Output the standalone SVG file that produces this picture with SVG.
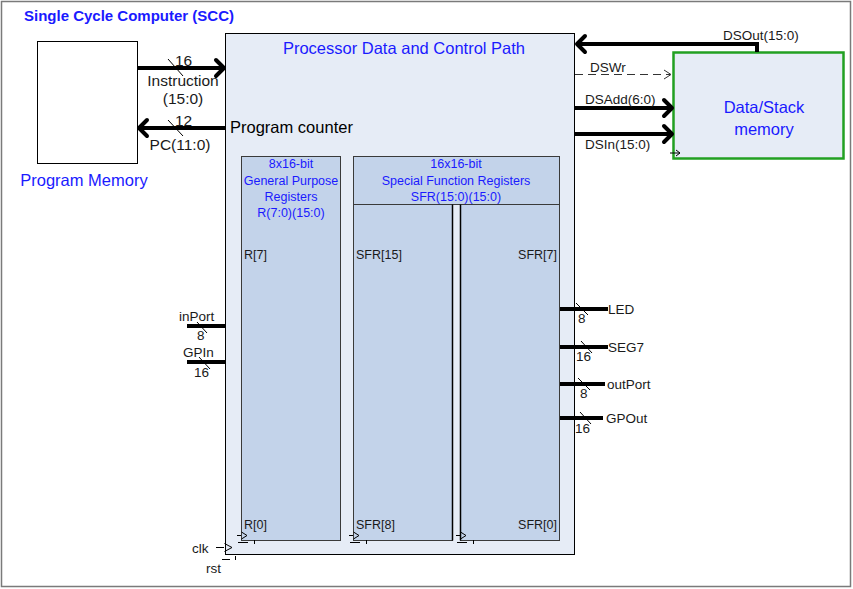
<svg xmlns="http://www.w3.org/2000/svg" width="853" height="589" viewBox="0 0 853 589">
<style>
text{font-family:"Liberation Sans",Arial,sans-serif;}
.blue{fill:#1a1aff;}
.lbl{fill:#1a1a1a;font-size:13.5px;}
.reg{fill:#c3d3ea;stroke:#3a3a3a;stroke-width:1;}
.bus{stroke:#000;stroke-width:4;fill:none;}
.head{stroke:#000;stroke-width:4;fill:none;stroke-linecap:round;stroke-linejoin:round;}
.thin{stroke:#000;stroke-width:1;fill:none;}
.rt{font-size:12.5px;fill:#1a1a1a;}
.hdr{font-size:12.5px;fill:#1a1aff;text-anchor:middle;}
.big{font-size:16.5px;}
.mid{font-size:15.5px;}
</style>
<rect x="0" y="0" width="853" height="589" fill="#fff"/>
<rect x="1.5" y="1.5" width="849" height="585" fill="none" stroke="#7a7a7a" stroke-width="1.5"/>
<text x="24" y="21" font-size="15" font-weight="bold" class="blue">Single Cycle Computer (SCC)</text>

<g id="program-memory">
<rect x="37.5" y="41.5" width="100" height="122" fill="#fff" stroke="#000" stroke-width="1"/>
<text x="84" y="186" class="blue big" text-anchor="middle">Program Memory</text>
</g>

<g id="processor">
<rect x="225.5" y="33.5" width="349" height="521" fill="#e6ecf6" stroke="#000" stroke-width="1"/>
<text x="404" y="54" class="blue big" text-anchor="middle">Processor Data and Control Path</text>
<text x="230" y="133" class="big" fill="#000">Program counter</text>
<path class="thin" d="M216 547.5 H224 M224.5 543.5 L232 547.5 L224.5 551.5 M222 559.5 H230 M235.5 556 V560"/>
<text x="192" y="553" class="lbl">clk</text>
<text x="206" y="573" class="lbl">rst</text>
</g>

<g id="gpr">
<rect class="reg" x="241.5" y="156.5" width="99" height="384"/>
<text class="hdr" x="291" y="168">8x16-bit</text>
<text class="hdr" x="291" y="185">General Purpose</text>
<text class="hdr" x="291" y="201">Registers</text>
<text class="hdr" x="291" y="217">R(7:0)(15:0)</text>
<text class="rt" x="244" y="259">R[7]</text>
<text class="rt" x="244" y="529">R[0]</text>
<path class="thin" d="M237 535.5 H241 M241.5 532 L247 535.5 L241.5 539 M238 542.5 H248 M254.5 540 V544"/>
</g>

<g id="sfr">
<rect class="reg" x="353.5" y="156.5" width="206" height="48"/>
<text class="hdr" x="456" y="168">16x16-bit</text>
<text class="hdr" x="456" y="185">Special Function Registers</text>
<text class="hdr" x="456" y="201">SFR(15:0)(15:0)</text>
<rect class="reg" x="353.5" y="204.5" width="99" height="336"/>
<rect class="reg" x="460.5" y="204.5" width="99" height="336"/>
<line x1="452.5" y1="204.5" x2="452.5" y2="540.5" stroke="#000" stroke-width="1.5"/>
<line x1="460.5" y1="204.5" x2="460.5" y2="540.5" stroke="#000" stroke-width="1.5"/>
<text class="rt" x="356" y="259">SFR[15]</text>
<text class="rt" x="557" y="259" text-anchor="end">SFR[7]</text>
<text class="rt" x="356" y="529">SFR[8]</text>
<text class="rt" x="557" y="529" text-anchor="end">SFR[0]</text>
<path class="thin" d="M349 535.5 H353 M353.5 532 L359 535.5 L353.5 539 M350 542.5 H360 M366.5 540 V544"/>
<path class="thin" d="M456 535.5 H460 M460.5 532 L466 535.5 L460.5 539 M457 542.5 H467 M473.5 540 V544"/>
</g>

<g id="data-stack-memory">
<rect x="673.5" y="52.5" width="170" height="106" fill="#e6ecf6" stroke="#22a022" stroke-width="2.5"/>
<text x="764" y="113" class="blue big" text-anchor="middle">Data/Stack</text>
<text x="764" y="135" class="blue big" text-anchor="middle">memory</text>
<path class="thin" d="M670 153 H680 M676 150 L680 153 L676 156"/>
</g>

<g id="connectors">
<!-- Instruction -->
<line class="bus" x1="138" y1="68" x2="223" y2="68"/>
<path class="head" d="M216 60 L224 68 L216 76"/>
<line class="thin" x1="168" y1="59" x2="183" y2="76"/>
<text x="175" y="66" class="mid" fill="#1a1a1a">16</text>
<text x="183" y="86" class="mid" fill="#1a1a1a" text-anchor="middle">Instruction</text>
<text x="183" y="104" class="mid" fill="#1a1a1a" text-anchor="middle">(15:0)</text>
<!-- PC -->
<line class="bus" x1="225" y1="128" x2="140" y2="128"/>
<path class="head" d="M147 120 L139 128 L147 136"/>
<line class="thin" x1="168" y1="120" x2="183" y2="136"/>
<text x="175" y="126" class="mid" fill="#1a1a1a">12</text>
<text x="180" y="150" class="mid" fill="#1a1a1a" text-anchor="middle">PC(11:0)</text>
<!-- DSOut -->
<path class="bus" d="M757 52 V44 H578"/>
<path class="head" d="M585 36 L577 44 L585 52"/>
<text x="723" y="40" class="lbl">DSOut(15:0)</text>
<!-- DSWr -->
<line x1="575" y1="74.5" x2="670" y2="74.5" stroke="#333" stroke-width="1" stroke-dasharray="8,5"/>
<path d="M664 70 L671 74.5 L664 79" fill="none" stroke="#333" stroke-width="1"/>
<text x="590" y="72" class="lbl">DSWr</text>
<!-- DSAdd -->
<line class="bus" x1="575" y1="108" x2="670" y2="108"/>
<path class="head" d="M664 100 L672 108 L664 116"/>
<text x="585" y="104" class="lbl">DSAdd(6:0)</text>
<!-- DSIn -->
<line class="bus" x1="575" y1="134" x2="670" y2="134"/>
<path class="head" d="M664 126 L672 134 L664 142"/>
<text x="585" y="149" class="lbl">DSIn(15:0)</text>
<!-- inPort -->
<line class="bus" x1="187" y1="326" x2="226" y2="326"/>
<line class="thin" x1="197" y1="322" x2="207" y2="333"/>
<text x="179" y="321" class="lbl">inPort</text>
<text x="197" y="340" class="lbl">8</text>
<!-- GPIn -->
<line class="bus" x1="187" y1="362" x2="226" y2="362"/>
<line class="thin" x1="199" y1="357" x2="210" y2="369"/>
<text x="183" y="357" class="lbl">GPIn</text>
<text x="194" y="377" class="lbl">16</text>
<!-- LED -->
<line class="bus" x1="560" y1="309" x2="608" y2="309"/>
<line class="thin" x1="576" y1="303" x2="588" y2="315"/>
<text x="608" y="314" class="lbl">LED</text>
<text x="578" y="323" class="lbl">8</text>
<!-- SEG7 -->
<line class="bus" x1="560" y1="347" x2="608" y2="347"/>
<line class="thin" x1="581" y1="341" x2="592" y2="353"/>
<text x="608" y="352" class="lbl">SEG7</text>
<text x="576" y="361" class="lbl">16</text>
<!-- outPort -->
<line class="bus" x1="560" y1="384" x2="605" y2="384"/>
<line class="thin" x1="578" y1="378" x2="590" y2="390"/>
<text x="607" y="389" class="lbl">outPort</text>
<text x="580" y="398" class="lbl">8</text>
<!-- GPOut -->
<line class="bus" x1="560" y1="418" x2="603" y2="418"/>
<line class="thin" x1="580" y1="412" x2="591" y2="424"/>
<text x="606" y="423" class="lbl">GPOut</text>
<text x="575" y="433" class="lbl">16</text>
</g>
</svg>
